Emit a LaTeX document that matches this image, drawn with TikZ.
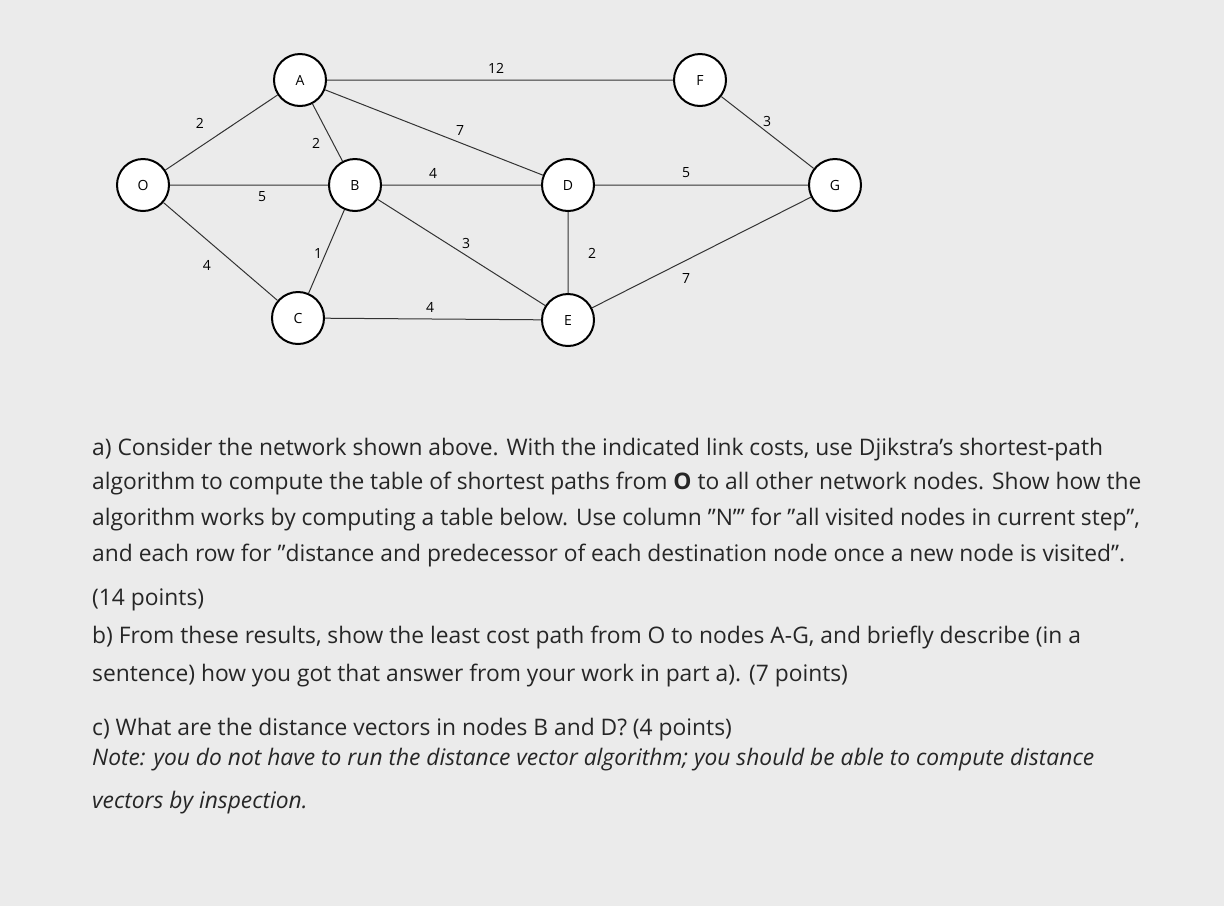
\documentclass[tikz,border=0pt]{standalone}
\usepackage{fontspec}
\setmainfont{Open Sans}
\begin{document}
\begin{tikzpicture}[x=1pt,y=-1pt,
  nd/.style={circle,draw=black,line width=2pt,fill=white,minimum size=52pt,inner sep=0pt,font=\fontsize{14}{16}\selectfont},
  ed/.style={draw=black!80,line width=1pt},
  lb/.style={font=\fontsize{14}{16}\selectfont,inner sep=1pt},
  tx/.style={anchor=west,font=\fontsize{22.8}{26}\selectfont,text=black!85,inner sep=0pt}]
\fill[black!8] (0,0) rectangle (1224,906);
\useasboundingbox (0,0) rectangle (1224,906);
\node[nd] (O) at (143,185) {O};
\node[nd] (A) at (300,80) {A};
\node[nd] (B) at (355,185) {B};
\node[nd] (C) at (298,318) {C};
\node[nd] (D) at (568,185) {D};
\node[nd] (E) at (568,320) {E};
\node[nd] (F) at (700,80) {F};
\node[nd] (G) at (835,185) {G};
\path[ed] (O)--(A) (O)--(B) (O)--(C) (A)--(B) (A)--(F) (A)--(D) (B)--(D) (B)--(C) (B)--(E) (C)--(E) (D)--(E) (D)--(G) (F)--(G) (E)--(G);
\node[lb] (l1) at (200,123) {2};
\node[lb] (l2) at (262,197) {5};
\node[lb] (l3) at (207,265) {4};
\node[lb] (l4) at (316,143) {2};
\node[lb] (l5) at (496,68) {12};
\node[lb] (l6) at (460,130) {7};
\node[lb] (l7) at (433,173) {4};
\node[lb] (l8) at (318,253) {1};
\node[lb] (l9) at (466,243) {3};
\node[lb] (l10) at (430,307) {4};
\node[lb] (l11) at (592,253) {2};
\node[lb] (l12) at (686,173) {5};
\node[lb] (l13) at (767,121) {3};
\node[lb] (l14) at (686,278) {7};
\node[tx] (t1) at (92,450) {a) Consider the network shown above. With the indicated link costs, use Djikstra's shortest-path};
\node[tx] (t2) at (92,484) {algorithm to compute the table of shortest paths from \textbf{O} to all other network nodes. Show how the};
\node[tx] (t3) at (92,520) {algorithm works by computing a table below. Use column "N'" for "all visited nodes in current step",};
\node[tx] (t4) at (92,556) {and each row for "distance and predecessor of each destination node once a new node is visited".};
\node[tx] (t5) at (92,600) {(14 points)};
\node[tx] (t6) at (92,638) {b) From these results, show the least cost path from O to nodes A-G, and briefly describe (in a};
\node[tx] (t7) at (92,676) {sentence) how you got that answer from your work in part a). (7 points)};
\node[tx] (t8) at (92,730) {c) What are the distance vectors in nodes B and D? (4 points)};
\node[tx] (t9) at (92,760) {\itshape Note: you do not have to run the distance vector algorithm; you should be able to compute distance};
\node[tx] (t10) at (92,803) {\itshape vectors by inspection.};
\end{tikzpicture}
\end{document}
